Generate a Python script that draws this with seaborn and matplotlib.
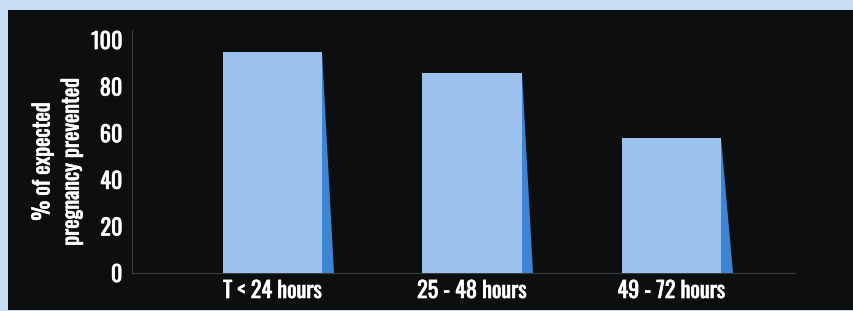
import matplotlib
matplotlib.use('Agg')
import matplotlib.pyplot as plt
import matplotlib.font_manager as fm
import matplotlib.patheffects as pe
from matplotlib.patches import Rectangle
import seaborn as sb
import pandas as pd

# Data
timing = ['T < 24 hours', '25 - 48 hours', '49 - 72 hours']
prevented = [95, 86, 58]
y_ticks = [0, 20, 40, 60, 80, 100]

sb.set_style('dark')
names = {f.name for f in fm.fontManager.ttflist}
fams = [f for f in ['Oswald', 'Barlow Condensed', 'DejaVu Sans'] if f in names]
plt.rcParams['font.family'] = fams

df = pd.DataFrame({'timing': timing, 'prevented': prevented})

fig = plt.figure(figsize=(8.54, 3.11), dpi=100, facecolor='#c8def2')
# black panel behind the axes
fig.patches.append(Rectangle((8 / 854, 1 / 311), 845 / 854, 300 / 311,
                             transform=fig.transFigure, facecolor='#0c0e0f',
                             edgecolor='none', zorder=-10))

ax = fig.add_axes([132 / 854, 38 / 311, 663 / 854, 243 / 311])
ax.set_facecolor('none')
ax.set_zorder(5)

sb.barplot(data=df, x='timing', y='prevented', color='#9cc1ec', width=0.5,
           saturation=1, ax=ax, zorder=3, edgecolor='none', linewidth=0)

# right-side shadow wedge for each bar
for p in ax.patches:
    x1 = p.get_x() + p.get_width()
    h = p.get_height()
    ax.fill([x1, x1, x1 + 0.058], [h, 0, 0], color='#3d85d2', lw=0, zorder=2)

ax.set_xlim(-0.705, 2.62)
ax.set_ylim(0, 104.3)
ax.set_yticks(y_ticks)
ax.grid(False)
for s in ['top', 'right']:
    ax.spines[s].set_visible(False)
for s in ['left', 'bottom']:
    ax.spines[s].set_color('#3a3d3f')
    ax.spines[s].set_linewidth(0.8)

ax.tick_params(axis='both', length=0, colors='white', labelsize=16)
ax.tick_params(axis='y', pad=7)
ax.tick_params(axis='x', pad=5)

ax.set_xlabel('')
ax.set_ylabel('% of expected\npregnancy prevented', color='white', fontsize=16,
              linespacing=1.4)
ax.yaxis.set_label_coords(-0.113, 0.46)
ax.yaxis.label.set_verticalalignment('center')
ax.yaxis.label.set_horizontalalignment('center')

# fake a heavier weight for the condensed font
bold = [pe.withStroke(linewidth=0.5, foreground='white')]
for t in ax.get_xticklabels() + ax.get_yticklabels() + [ax.yaxis.label]:
    t.set_path_effects(bold)

fig.savefig('out.png', dpi=100, facecolor=fig.get_facecolor())
